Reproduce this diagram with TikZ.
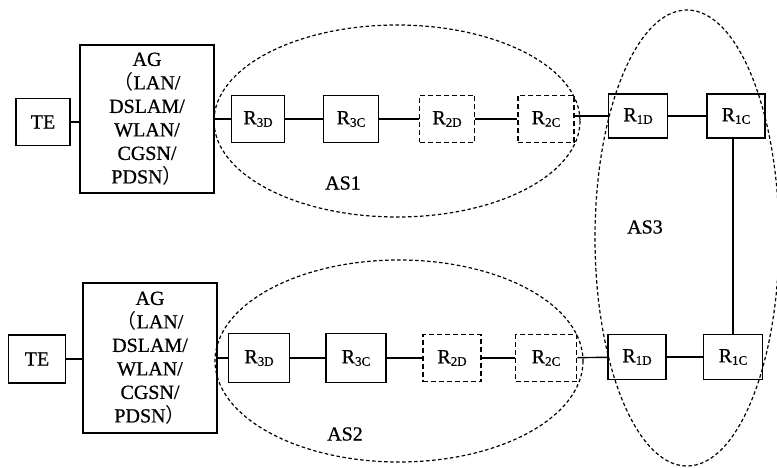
\documentclass[tikz,border=0pt]{standalone}
\usepackage{fontspec}
\setmainfont{Liberation Serif}[FakeBold=0.7]
\newfontfamily\cjk{Noto Sans CJK SC}
\usetikzlibrary{shapes.geometric}
\newcommand{\Rsub}[1]{R\raisebox{-2.5pt}{\fontsize{13}{13}\selectfont #1}}
\tikzset{
  box/.style={draw, line width=1.9pt, inner sep=0pt, font=\fontsize{20}{20}\selectfont},
  dbox/.style={box, dashed, dash pattern=on 5pt off 3pt, line width=1.7pt},
  link/.style={line width=1.4pt},
  thin link/.style={line width=1.1pt},
  zone/.style={draw, dashed, dash pattern=on 3.5pt off 2.5pt, line width=1.2pt},
  lab/.style={font=\fontsize{20}{20}\selectfont}
}
\begin{document}
\begin{tikzpicture}[x=1pt,y=-1pt]
\useasboundingbox (0,0) rectangle (777,468);
\begin{scope}
\clip (0,0) rectangle (777,468);
% ellipses
\draw[zone] (397,121) ellipse [x radius=183, y radius=96];
\draw[zone] (399,361) ellipse [x radius=184, y radius=101];
\draw[zone] (687,238) ellipse [x radius=92, y radius=228];
\end{scope}
% top row
\node[box, minimum width=54pt, minimum height=47pt] (te1) at (43,122) {TE};
\node[box, minimum width=134pt, minimum height=148pt, align=center,
  font=\fontsize{20}{23.5}\selectfont] (ag1) at (147,119)
  {AG\\{\cjk （}LAN/\\DSLAM/\\WLAN/\\CGSN/\\PDSN{\cjk ）}};
\node[box, minimum width=53pt, minimum height=47pt] (r3d1) at (258,119) {\Rsub{3D}};
\node[box, minimum width=55pt, minimum height=47pt] (r3c1) at (351,119) {\Rsub{3C}};
\node[dbox, minimum width=55pt, minimum height=47pt] (r2d1) at (447,119) {\Rsub{2D}};
\node[dbox, minimum width=56pt, minimum height=47pt] (r2c1) at (546,119) {\Rsub{2C}};
\node[box, minimum width=59pt, minimum height=44pt] (r1d1) at (638,116) {\Rsub{1D}};
\node[box, minimum width=58pt, minimum height=44pt] (r1c1) at (736,116) {\Rsub{1C}};
% bottom row
\node[box, minimum width=57pt, minimum height=48pt] (te2) at (37,359) {TE};
\node[box, minimum width=134pt, minimum height=150pt, align=center,
  font=\fontsize{20}{23.5}\selectfont] (ag2) at (150,358)
  {AG\\{\cjk （}LAN/\\DSLAM/\\WLAN/\\CGSN/\\PDSN{\cjk ）}};
\node[box, minimum width=61pt, minimum height=49pt] (r3d2) at (259,358) {\Rsub{3D}};
\node[box, minimum width=60pt, minimum height=49pt] (r3c2) at (356,358) {\Rsub{3C}};
\node[dbox, minimum width=58pt, minimum height=47pt] (r2d2) at (452,358) {\Rsub{2D}};
\node[dbox, minimum width=61pt, minimum height=47pt] (r2c2) at (546,358) {\Rsub{2C}};
\node[box, minimum width=58pt, minimum height=45pt] (r1d2) at (637,357) {\Rsub{1D}};
\node[box, minimum width=59pt, minimum height=45pt] (r1c2) at (733,357) {\Rsub{1C}};
% labels
\node[lab] (as1) at (343,183) {AS1};
\node[lab] (as2) at (345,434) {AS2};
\node[lab] (as3) at (645,227) {AS3};
% links
\draw[link] (te1) -- (ag1.west |- te1);
\draw[link] (ag1.east |- r3d1) -- (r3d1);
\draw[link] (r3d1) -- (r3c1);
\draw[link] (r3c1) -- (r2d1);
\draw[thin link] (r2d1) -- (r2c1);
\draw[link] (r2c1.east |- r1d1) -- (r1d1);
\draw[link] (r1d1) -- (r1c1);
\draw[link] (te2) -- (ag2.west |- te2);
\draw[link] (ag2.east |- r3d2) -- (r3d2);
\draw[link] (r3d2) -- (r3c2);
\draw[link] (r3c2) -- (r2d2);
\draw[thin link] (r2d2) -- (r2c2);
\draw[link] (r2c2) -- (r1d2);
\draw[link] (r1d2) -- (r1c2);
\draw[thin link] (r1c2.north) -- (r1c2.north |- r1c1.south);
\end{tikzpicture}
\end{document}
